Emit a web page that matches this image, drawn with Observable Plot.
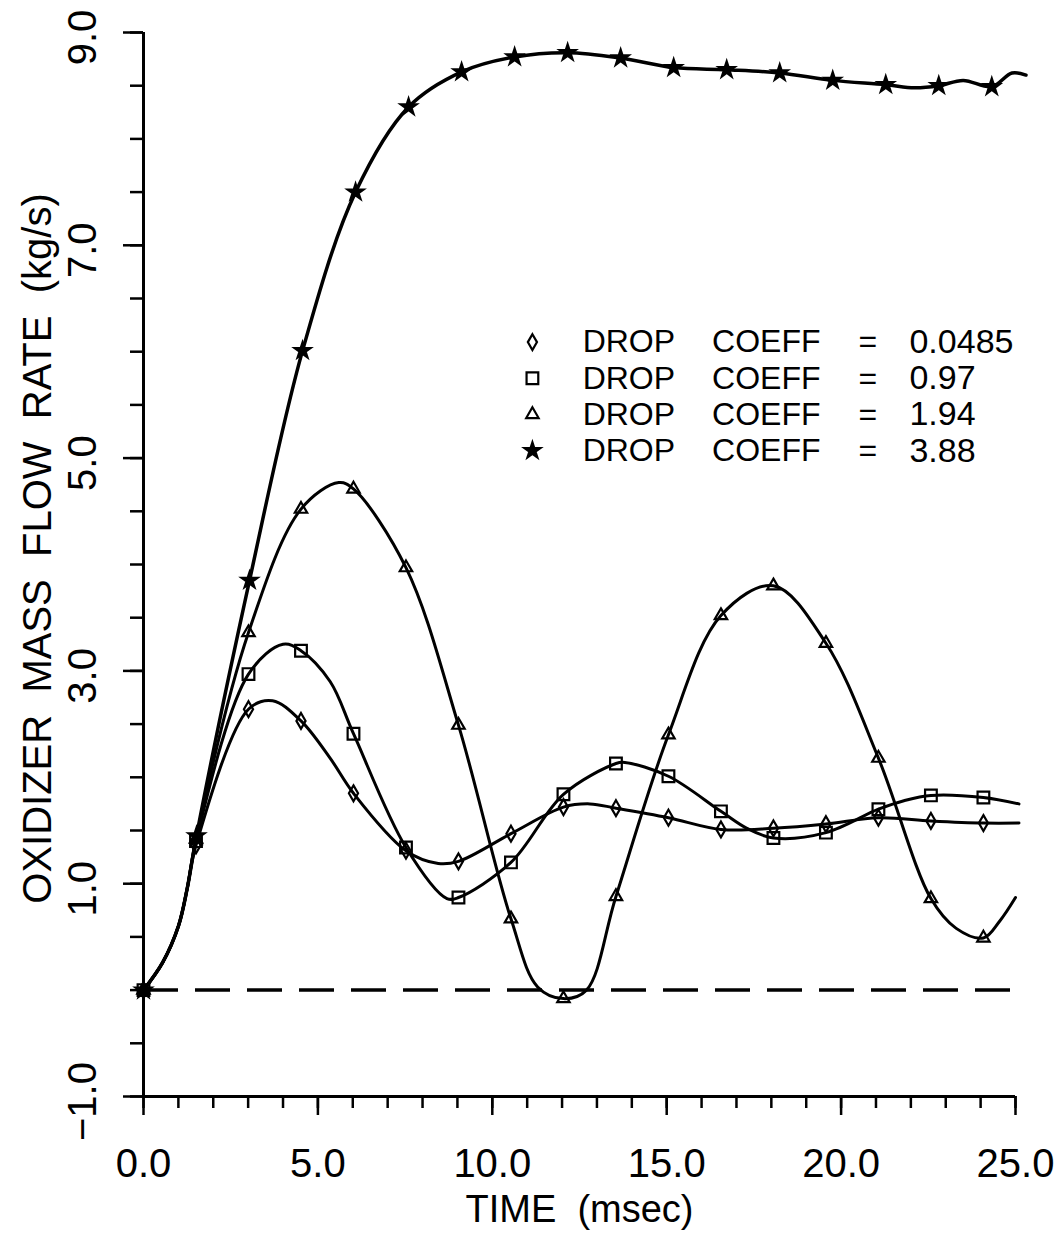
<!DOCTYPE html>
<html>
<head>
<meta charset="utf-8">
<script src="https://cdn.jsdelivr.net/npm/d3@7"></script>
<script src="https://cdn.jsdelivr.net/npm/@observablehq/plot@0.6"></script>
<style>
  html, body { margin: 0; padding: 0; background: #fff; }
</style>
</head>
<body>
<div id="chart"></div>
<script>
// ---- Data ----
const seriesNames = ["0.0485", "0.97", "1.94", "3.88"];

// times (msec) at which the plotted markers sit
const markerTimes = [0, 1.505, 3.01, 4.515, 6.02, 7.525, 9.03, 10.535, 12.04, 13.545, 15.05, 16.555, 18.06, 19.565, 21.07, 22.575, 24.08];
const starTimes   = [0, 1.52, 3.04, 4.56, 6.08, 7.60, 9.12, 10.64, 12.16, 13.68, 15.20, 16.72, 18.24, 19.76, 21.28, 22.80, 24.32];

// oxidizer mass flow rate (kg/s) at the markers
const diamondValues  = [0, 1.36, 2.64, 2.53, 1.85, 1.31, 1.21, 1.47, 1.72, 1.71, 1.62, 1.51, 1.52, 1.56, 1.62, 1.59, 1.57];
const squareValues   = [0, 1.40, 2.97, 3.19, 2.41, 1.34, 0.87, 1.20, 1.84, 2.13, 2.01, 1.68, 1.43, 1.48, 1.70, 1.83, 1.81];
const triangleValues = [0, 1.42, 3.36, 4.52, 4.71, 3.97, 2.49, 0.67, -0.08, 0.88, 2.40, 3.52, 3.80, 3.26, 2.18, 0.86, 0.49];
const starValues     = [0, 1.45, 3.85, 6.01, 7.50, 8.30, 8.63, 8.77, 8.81, 8.76, 8.67, 8.65, 8.62, 8.55, 8.51, 8.50, 8.49];

// extra curve points between markers [time, value]
const commonStart     = [[0.55, 0.26], [1.0, 0.60], [1.25, 0.95]];
const diamondBetween  = [[3.7, 2.72], [5.35, 2.18], [8.45, 1.19], [12.8, 1.75], [25.1, 1.57]];
const squareBetween   = [[4.0, 3.25], [5.35, 2.90], [8.7, 0.86], [13.8, 2.14], [17.3, 1.52], [21.8, 1.78], [25.1, 1.75]];
const triangleBetween = [[5.6, 4.77], [11.3, 0.03], [12.7, 0.0], [23.3, 0.58], [24.55, 0.65], [25.0, 0.87]];
const starBetween     = [[22.1, 8.48], [23.5, 8.55], [24.9, 8.62], [25.3, 8.60]];

// axis ticks
const xTicks = [0,1,2,3,4,5,6,7,8,9,10,11,12,13,14,15,16,17,18,19,20,21,22,23,24,25];
const xLabelTicks = [0, 5, 10, 15, 20, 25];
const yTicks = [-1,-0.5,0,0.5,1,1.5,2,2.5,3,3.5,4,4.5,5,5.5,6,6.5,7,7.5,8,8.5,9];
const yLabelTicks = [-1, 1, 3, 5, 7, 9];

const xTitle = "TIME \u00a0(msec)";
const yTitle = "OXIDIZER \u00a0MASS \u00a0FLOW \u00a0RATE \u00a0(kg/s)";

// ---- Build tables ----
function build(times, values, between) {
  const markers = times.map((t, i) => ({t, v: values[i]}));
  const extra = commonStart.concat(between).map(([t, v]) => ({t, v}));
  const line = markers.concat(extra).sort((a, b) => a.t - b.t);
  return {markers, line};
}
const series = [
  {name: seriesNames[0], symbol: "diamond",  r: 4.8, fill: "none",  ...build(markerTimes, diamondValues, diamondBetween)},
  {name: seriesNames[1], symbol: "square",   r: 6.6, fill: "none",  ...build(markerTimes, squareValues, squareBetween)},
  {name: seriesNames[2], symbol: "triangle", r: 4.6, fill: "none",  ...build(markerTimes, triangleValues, triangleBetween)},
  {name: seriesNames[3], symbol: "star",     r: 5.0, fill: "black", ...build(starTimes, starValues, starBetween)}
];
const legendRows = series.map((s, i) => ({name: s.name, y: 6.09 - 0.34 * i}));

const font = "'Liberation Sans', Arial, Helvetica, sans-serif";
const fmt = d3.format(".1f");

const marks = [
  // dashed zero line
  Plot.ruleY([0], {x1: 0, x2: 25, stroke: "black", strokeWidth: 3.5, strokeDasharray: "35,17"}),
  // axis lines
  Plot.ruleX([0], {y1: -1, y2: 9, stroke: "black", strokeWidth: 3}),
  Plot.ruleY([-1], {x1: 0, x2: 25, stroke: "black", strokeWidth: 3}),
  // ticks
  Plot.axisX(xTicks, {tickSize: 12, fill: "none", tickFormat: () => "", strokeWidth: 2.5, label: null}),
  Plot.axisX(xLabelTicks, {tickSize: 19, fill: "none", tickFormat: () => "", strokeWidth: 2.5, label: null}),
  Plot.axisY(yTicks, {tickSize: 13, fill: "none", tickFormat: () => "", strokeWidth: 2.5, label: null}),
  Plot.axisY(yLabelTicks, {tickSize: 20, fill: "none", tickFormat: () => "", strokeWidth: 2.5, label: null}),
  // tick labels
  Plot.text(xLabelTicks, {x: d => d, frameAnchor: "bottom", dy: 80, text: d => fmt(d),
    textAnchor: "middle", lineAnchor: "bottom", fontSize: 40, fill: "black"}),
  Plot.text(yLabelTicks, {y: d => d, frameAnchor: "left", dx: -48, dy: 5, rotate: -90, text: d => fmt(d),
    textAnchor: "middle", lineAnchor: "bottom", fontSize: 40, fill: "black"}),
  // axis titles
  Plot.text([xTitle], {frameAnchor: "bottom", dy: 125, text: d => d, textAnchor: "middle",
    lineAnchor: "bottom", fontSize: 38, fill: "black"}),
  Plot.text([yTitle], {frameAnchor: "left", dx: -93, dy: -16, rotate: -90, text: d => d,
    textAnchor: "middle", lineAnchor: "bottom", fontSize: 40, fill: "black"})
];

for (const s of series) {
  marks.push(Plot.line(s.line, {x: "t", y: "v", curve: "catmull-rom", stroke: "black",
    strokeWidth: s.symbol === "star" ? 3.5 : 3}));
}
for (const s of series) {
  marks.push(Plot.dot(s.markers, {x: "t", y: "v", symbol: s.symbol, r: s.r, fill: s.fill,
    stroke: "black", strokeWidth: 2.2}));
}

// legend
const legendFont = 32;
series.forEach((s, i) => {
  const row = [legendRows[i]];
  marks.push(Plot.dot(row, {x: 11.15, y: "y", symbol: s.symbol, r: s.r, fill: s.fill, stroke: "black", strokeWidth: 2.2}));
  marks.push(Plot.text(row, {x: 12.59, y: "y", text: () => "DROP", textAnchor: "start", lineAnchor: "middle", fontSize: legendFont, fill: "black"}));
  marks.push(Plot.text(row, {x: 16.3, y: "y", text: () => "COEFF", textAnchor: "start", lineAnchor: "middle", fontSize: legendFont, fill: "black"}));
  marks.push(Plot.text(row, {x: 20.5, y: "y", text: () => "=", textAnchor: "start", lineAnchor: "middle", fontSize: legendFont, fill: "black"}));
  marks.push(Plot.text(row, {x: 21.96, y: "y", text: d => d.name, textAnchor: "start", lineAnchor: "middle", fontSize: legendFont + 2, fill: "black"}));
});

const chart = Plot.plot({
  width: 1062,
  height: 1237,
  marginLeft: 143,
  marginRight: 47,
  marginTop: 32,
  marginBottom: 141,
  x: {domain: [0, 25], axis: null},
  y: {domain: [-1, 9], axis: null},
  style: {fontFamily: font, background: "white", color: "black", overflow: "visible"},
  marks
});
document.getElementById("chart").appendChild(chart);
</script>
</body>
</html>
